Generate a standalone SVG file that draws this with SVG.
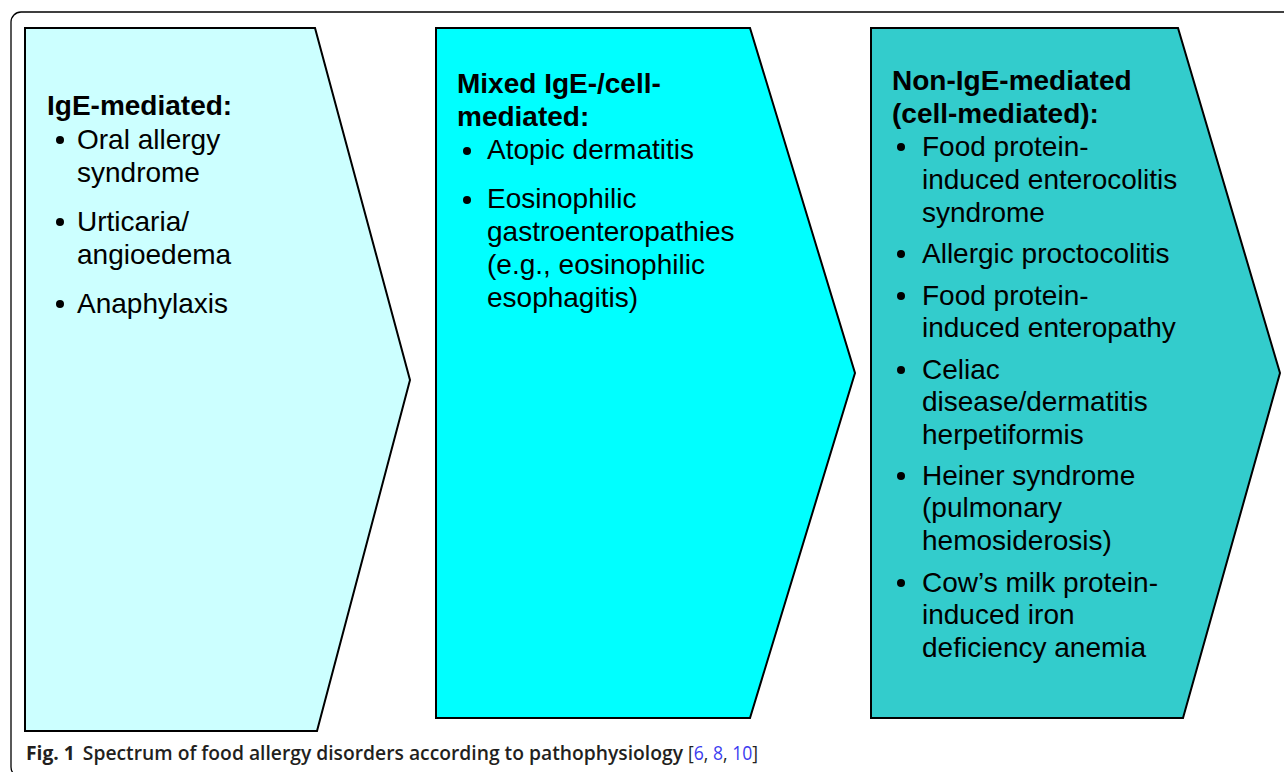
<svg xmlns="http://www.w3.org/2000/svg" width="1284" height="772" viewBox="0 0 1284 772">
<style>
.box{stroke:#000;stroke-width:2;stroke-linejoin:miter}
.h{font-family:"Liberation Sans",Arial,sans-serif;font-size:28px;font-weight:bold;fill:#000}
.t{font-family:"Liberation Sans",Arial,sans-serif;font-size:28px;fill:#000}
.cap{font-family:"Open Sans","Noto Sans",sans-serif;font-size:19.5px;font-weight:600;fill:#231f20}
.fig{font-weight:bold}
.refs{font-family:"Open Sans","Noto Sans",sans-serif;font-size:19.5px;font-weight:normal;fill:#231f20}
.ref{fill:#3b3bf0}
</style>
<rect width="1284" height="772" fill="#fff"/>
<rect x="11" y="12" width="1300" height="765" rx="10" fill="none" stroke="#000" stroke-width="1.3"/>
<g id="connectors"></g>
<g id="node-ige">
<polygon class="box" fill="#ccffff" points="25,28 315,28 410,380 317,731 25,731"/>
<text class="h" x="47" y="115">IgE-mediated:</text>
<g fill="#000"><circle cx="60" cy="140" r="4"/><circle cx="60" cy="222" r="4"/><circle cx="60" cy="304" r="4"/></g>
<text class="t" x="77" y="149">Oral allergy</text>
<text class="t" x="77" y="182">syndrome</text>
<text class="t" x="77" y="231">Urticaria/</text>
<text class="t" x="77" y="264">angioedema</text>
<text class="t" x="77" y="313">Anaphylaxis</text>
</g>
<g id="node-mixed">
<polygon class="box" fill="#00ffff" points="436,28 750,28 855,373 750,718 436,718"/>
<text class="h" x="457" y="93">Mixed IgE-/cell-</text>
<text class="h" x="457" y="126">mediated:</text>
<g fill="#000"><circle cx="467" cy="151" r="4"/><circle cx="467" cy="200" r="4"/></g>
<text class="t" x="487" y="159">Atopic dermatitis</text>
<text class="t" x="487" y="208">Eosinophilic</text>
<text class="t" x="487" y="241">gastroenteropathies</text>
<text class="t" x="487" y="274">(e.g., eosinophilic</text>
<text class="t" x="487" y="307">esophagitis)</text>
</g>
<g id="node-nonige">
<polygon class="box" fill="#33cccc" points="871,28 1178,28 1280,373 1183,718 871,718"/>
<text class="h" x="892" y="90">Non-IgE-mediated</text>
<text class="h" x="892" y="123">(cell-mediated):</text>
<g fill="#000"><circle cx="901" cy="147" r="4"/><circle cx="901" cy="254" r="4"/><circle cx="901" cy="296" r="4"/><circle cx="901" cy="370" r="4"/><circle cx="901" cy="476" r="4"/><circle cx="901" cy="583" r="4"/></g>
<text class="t" x="922" y="156">Food protein-</text>
<text class="t" x="922" y="189">induced enterocolitis</text>
<text class="t" x="922" y="222">syndrome</text>
<text class="t" x="922" y="263">Allergic proctocolitis</text>
<text class="t" x="922" y="305">Food protein-</text>
<text class="t" x="922" y="337">induced enteropathy</text>
<text class="t" x="922" y="379">Celiac</text>
<text class="t" x="922" y="411">disease/dermatitis</text>
<text class="t" x="922" y="444">herpetiformis</text>
<text class="t" x="922" y="485">Heiner syndrome</text>
<text class="t" x="922" y="517">(pulmonary</text>
<text class="t" x="922" y="550">hemosiderosis)</text>
<text class="t" x="922" y="592">Cow’s milk protein-</text>
<text class="t" x="922" y="624">induced iron</text>
<text class="t" x="922" y="657">deficiency anemia</text>
</g>
<text class="cap" x="26" y="760" textLength="657" lengthAdjust="spacingAndGlyphs"><tspan class="fig">Fig. 1</tspan><tspan dx="8">Spectrum of food allergy disorders according to pathophysiology</tspan></text>
<text class="refs" x="688" y="760" textLength="70" lengthAdjust="spacingAndGlyphs">[<tspan class="ref">6</tspan>, <tspan class="ref">8</tspan>, <tspan class="ref">10</tspan>]</text>
</svg>
